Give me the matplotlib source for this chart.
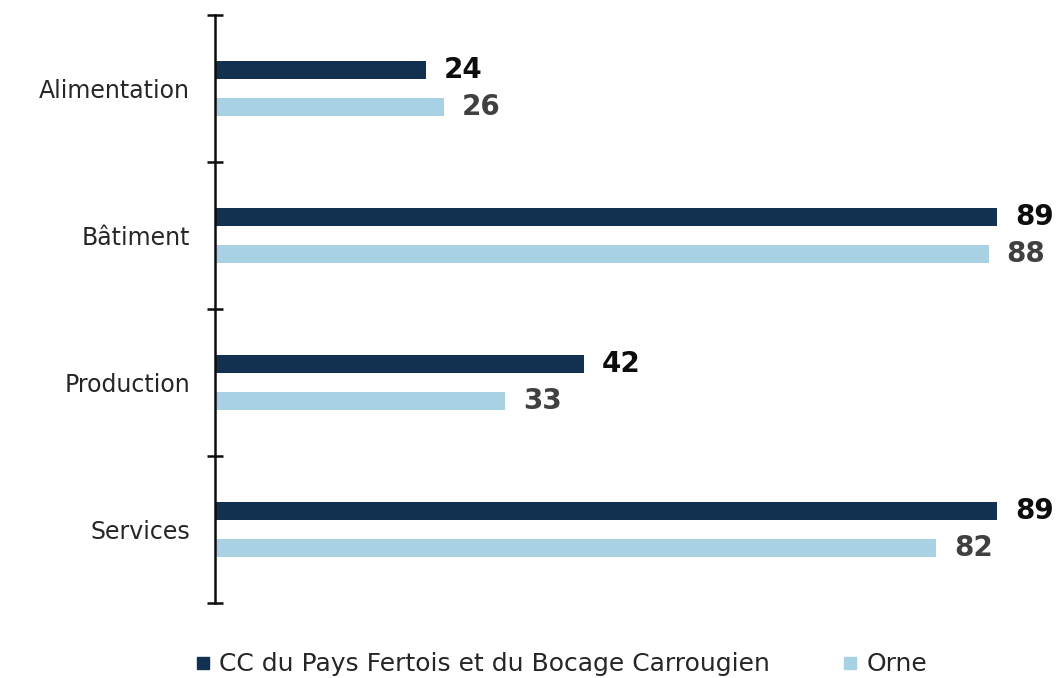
import matplotlib
matplotlib.use('Agg')
import matplotlib.pyplot as plt
from matplotlib.lines import Line2D
import numpy as np

# Data
categories = ['Alimentation', 'Bâtiment', 'Production', 'Services']
cc_values = [24, 89, 42, 89]
orne_values = [26, 88, 33, 82]
series_names = ['CC du Pays Fertois et du Bocage Carrougien', 'Orne']

dark = '#12304f'
light = '#a9d1e4'

plt.rcParams['font.family'] = ['DejaVu Sans']

fig = plt.figure(figsize=(10.58, 6.78), dpi=100)
ax = fig.add_axes([215 / 1058, 1 - 603 / 678, 843 / 1058, 588 / 678])

y = np.arange(len(categories))
offset = 0.126
height = 0.122
ax.barh(y - offset, cc_values, height=height, color=dark)
ax.barh(y + offset, orne_values, height=height, color=light)

# value labels
for yi, v in zip(y, cc_values):
    ax.annotate(str(v), (v, yi - offset), xytext=(13, 0), textcoords='offset points',
                va='center', ha='left', fontsize=20, fontweight='bold', color='#0d0d0d')
for yi, v in zip(y, orne_values):
    ax.annotate(str(v), (v, yi + offset), xytext=(13, 0), textcoords='offset points',
                va='center', ha='left', fontsize=20, fontweight='bold', color='#404040')

ax.set_xlim(0, 843 / 8.79)
ax.set_ylim(len(categories) - 0.5, -0.5)

# category boundaries as ticks, names as minor labels
ax.set_yticks(np.arange(-0.5, len(categories), 1.0))
ax.set_yticklabels([])
ax.tick_params(axis='y', which='major', direction='inout', length=12, width=1.8, color='#0d0d0d')
ax.set_yticks(y, minor=True)
ax.set_yticklabels(categories, minor=True, fontsize=17, color='#262626')
ax.tick_params(axis='y', which='minor', length=0, pad=18)

ax.set_xticks([])
for side in ['top', 'right', 'bottom']:
    ax.spines[side].set_visible(False)
ax.spines['left'].set_linewidth(1.8)
ax.spines['left'].set_color('#0d0d0d')

handles = [Line2D([], [], marker='s', linestyle='none', color=dark, markersize=9),
           Line2D([], [], marker='s', linestyle='none', color=light, markersize=9)]
fig.legend(handles, series_names, loc='center', bbox_to_anchor=(0.527, 0.02), ncol=2,
           frameon=False, fontsize=18, handletextpad=0.05, handlelength=1.2,
           columnspacing=2.6, labelcolor='#262626')

fig.savefig('out.png', dpi=100)
